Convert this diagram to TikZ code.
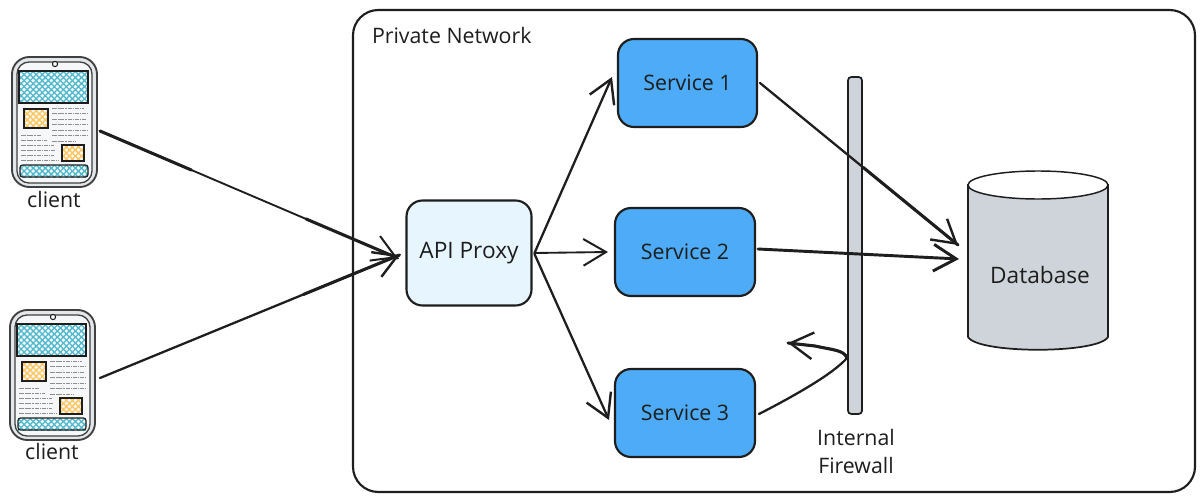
\documentclass[tikz,border=0pt]{standalone}
\usepackage{fontspec}
\setmainfont{Open Sans}
\usetikzlibrary{arrows.meta,patterns.meta,calc}
\definecolor{ink}{HTML}{1E1E1E}
\definecolor{svcblue}{HTML}{4DABF7}
\definecolor{proxyblue}{HTML}{E7F5FF}
\definecolor{wallgray}{HTML}{CED4DA}
\definecolor{rimgray}{HTML}{E4E7EA}
\definecolor{screengray}{HTML}{F6F7F9}
\definecolor{hatchcyan}{HTML}{4FB9CE}
\definecolor{hatchyellow}{HTML}{FFC65C}
\tikzset{
  sized/.style 2 args={minimum width=#1*0.75pt,minimum height=#2*0.75pt},
  box/.style={draw=ink,line width=1.6pt,inner sep=0pt,outer sep=0pt,rounded corners=12pt,text=ink,align=center,font=\fontsize{16}{19}\selectfont},
  service/.style={box,fill=svcblue},
  label/.style={inner sep=0pt,outer sep=0pt,text=ink,align=center,font=\fontsize{16}{21}\selectfont},
  phoneframe/.style={draw=ink!85,line width=1.4pt,fill=rimgray,rounded corners=13pt,inner sep=0pt,outer sep=0pt,sized={85}{130}},
  link/.style={draw=ink,line width=1.7pt,line cap=round,-{Straight Barb[length=17pt,width=20pt,line width=1.8pt]}},
  heavy/.style={link,line width=2.2pt,-{Straight Barb[length=17pt,width=20pt,line width=2.2pt]}},
  light/.style={link,line width=1.4pt,-{Straight Barb[length=17pt,width=20pt,line width=1.5pt]}},
  ridge/.style={draw=ink,line width=2.3pt,line cap=round},
  hatchA/.style={pattern={Lines[angle=45,distance=3.2pt,line width=1pt]},pattern color=#1},
  hatchB/.style={pattern={Lines[angle=-45,distance=3.2pt,line width=1pt]},pattern color=#1},
  copytext/.style={draw=ink!50,line width=0.3pt,dash pattern=on 1.2pt off 0.4pt on 0.5pt off 0.5pt},
  phonebody/.pic={
    \draw[ink!85,line width=1pt,fill=screengray,rounded corners=9pt] (5,5) rectangle (80,126);
    \draw[ink,line width=0.8pt,fill=white] (43,7) circle (2.6);
    \path[hatchA=hatchcyan] (7,14) rectangle (76,46);
    \path[hatchB=hatchcyan] (7,14) rectangle (76,46);
    \draw[ink,line width=0.9pt] (7,14) rectangle (76,46);
    \path[hatchA=hatchyellow] (12,52) rectangle (36,71);
    \path[hatchB=hatchyellow] (12,52) rectangle (36,71);
    \draw[ink,line width=0.9pt] (12,52) rectangle (36,71);
    \path[hatchA=hatchyellow] (50,88) rectangle (72,104);
    \path[hatchB=hatchyellow] (50,88) rectangle (72,104);
    \draw[ink,line width=0.9pt] (50,88) rectangle (72,104);
    \path[hatchA=hatchcyan] (8,108) rectangle (76,120);
    \path[hatchB=hatchcyan] (8,108) rectangle (76,120);
    \draw[ink,line width=0.9pt,rounded corners=2pt] (8,108) rectangle (76,120);
    \foreach \yy/\xx in {51/72,56.5/76,62/74,67.5/76,73/75,78.5/76,84/64}
      \draw[copytext] (40,\yy) -- (\xx,\yy);
    \foreach \yy/\xx in {78/29,83/35,88/42,93/43,98/42,103/46}
      \draw[copytext] (9,\yy) -- (\xx,\yy);
  },
}
\begin{document}
\begin{tikzpicture}[x=0.75pt,y=-0.75pt]
\useasboundingbox[fill=white] (0,0) rectangle (1203,503);

% frame
\node[box,sized={842}{482},rounded corners=19pt,fill=white] (net) at (774,251) {};
\node[label,anchor=west] (netlabel) at (372,36) {Private Network};

% phones
\node[phoneframe] (client1) at (54.5,122) {};
\pic at (client1.north west) {phonebody};
\node[label] (client1label) at (54,199) {client};
\node[phoneframe] (client2) at (52.5,375) {};
\pic at (client2.north west) {phonebody};
\node[label] (client2label) at (52,451) {client};

% services
\node[box,fill=proxyblue,sized={125}{105},font=\fontsize{17}{20}\selectfont] (proxy) at (469,253) {API Proxy};
\node[service,sized={139}{88}] (svc1) at (687.5,83) {Service 1};
\node[service,sized={140}{88}] (svc2) at (685,252) {Service 2};
\node[service,sized={140}{88}] (svc3) at (685,413) {Service 3};

% firewall
\node[draw=ink,line width=1.3pt,fill=wallgray,rounded corners=2.5pt,inner sep=0pt,outer sep=0pt,sized={14}{337}] (wall) at (855,245.5) {};
\node[label] (walllabel) at (856,451) {Internal\\Firewall};
\coordinate (bend) at (847,358);
\coordinate (curvetip) at (788,343);

% database
\node[inner sep=0pt,outer sep=0pt,sized={140}{178}] (db) at (1038,261) {};
\draw[ink,line width=1.3pt,fill=wallgray]
  (db.north west) ++(0,13) -- ++(0,152)
  .. controls +(10,17) and +(-10,17) .. ++(140,0) -- ++(0,-152) -- cycle;
\draw[ink,line width=1.1pt,fill=white] (1038,185) ellipse (70 and 14);
\node[label,font=\fontsize{17}{20}\selectfont] (dblabel) at (1040,275) {Database};

% connectors
\draw[light] ($(client1.east)+(3,9)$) -- ($(proxy.west)+(-9,5)$);
\draw[ridge,shorten >=168pt] ($(client1.east)+(3,9)$) -- ($(proxy.west)+(-9,5)$);
\draw[ridge,shorten <=168pt] ($(client1.east)+(3,9)$) -- ($(proxy.west)+(-9,5)$);
\draw[link] ($(client2.east)+(5,3)$) -- ($(proxy.west)+(-7,2)$);
\draw[ridge,shorten <=165pt] ($(client2.east)+(5,3)$) -- ($(proxy.west)+(-7,2)$);
\draw[link] ($(proxy.east)+(3,0)$) -- ($(svc1.west)+(-6,-6)$);
\draw[light] ($(proxy.east)+(3,0)$) -- ($(svc2.west)+(-7,0)$);
\draw[link] ($(proxy.east)+(3,1)$) -- ($(svc3.west)+(-6,7)$);
\draw[link] ($(svc1.east)+(3,0)$) -- ($(db.west)+(-10,-16)$);
\draw[ridge,shorten <=100pt] ($(svc1.east)+(3,0)$) -- ($(db.west)+(-10,-16)$);
\draw[heavy] ($(svc2.east)+(3,-3)$) -- ($(db.west)+(-9,-2)$);
\draw[link] ($(svc3.east)+(4,1)$) .. controls +(35,-18) and +(-14,16) .. (bend)
  .. controls +(-3,-8) and +(18,4) .. (815,346) -- (curvetip);
\draw[ridge] (bend) .. controls +(-3,-8) and +(18,4) .. (815,346) -- (curvetip);
\end{tikzpicture}
\end{document}
